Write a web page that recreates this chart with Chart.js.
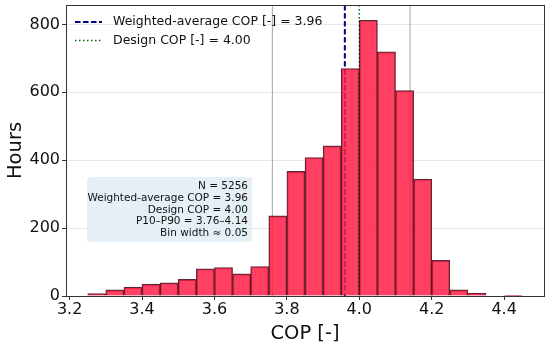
<!DOCTYPE html>
<html>
<head>
<meta charset="utf-8">
<script src="https://cdn.jsdelivr.net/npm/chart.js@4.4.1/dist/chart.umd.min.js"></script>
<style>
html,body{margin:0;padding:0;background:#fff;}
#wrap{width:550px;height:349px;position:relative;}
</style>
</head>
<body>
<div id="wrap"><canvas id="c" width="550" height="349"></canvas></div>
<script>
// ---- data ----
const binStarts = [3.25,3.30,3.35,3.40,3.45,3.50,3.55,3.60,3.65,3.70,3.75,3.80,3.85,3.90,3.95,4.00,4.05,4.10,4.15,4.20,4.25,4.30,4.35,4.40];
const binCounts = [7,18,26,35,39,49,80,84,65,87,236,367,408,442,670,812,719,605,344,105,18,8,0,1];
const binWidth = 0.05;
const xTicks = [3.2,3.4,3.6,3.8,4.0,4.2,4.4];
const yTicks = [0,200,400,600,800];
const weightedCOP = 3.96;
const designCOP = 4.00;
const p10 = 3.76;
const p90 = 4.14;
const nHours = 5256;
const legendLabels = ["Weighted-average COP [-] = 3.96", "Design COP [-] = 4.00"];
const infoLines = ["N = 5256", "Weighted-average COP = 3.96", "Design COP = 4.00", "P10–P90 = 3.76–4.14", "Bin width ≈ 0.05"];

const FONT = "'DejaVu Sans', sans-serif";
const barData = binStarts.map((s,i)=>({x: s + binWidth/2, y: binCounts[i]}));

const refPlugin = {
  id: 'refs',
  beforeDatasetsDraw(chart){
    const {ctx, chartArea:a, scales:{x}} = chart;
    ctx.save();
    ctx.beginPath(); ctx.rect(a.left,a.top,a.right-a.left,a.bottom-a.top); ctx.clip();
    ctx.strokeStyle = 'rgba(128,128,128,0.6)';
    ctx.lineWidth = 1.2;
    ctx.setLineDash([]);
    [p10,p90].forEach(v=>{
      const px = x.getPixelForValue(v);
      ctx.beginPath(); ctx.moveTo(px,a.top); ctx.lineTo(px,a.bottom); ctx.stroke();
    });
    ctx.strokeStyle = '#006400';
    ctx.lineWidth = 1.5;
    ctx.setLineDash([1.5,2.5]);
    let px = x.getPixelForValue(designCOP);
    ctx.beginPath(); ctx.moveTo(px,a.top); ctx.lineTo(px,a.bottom); ctx.stroke();
    ctx.strokeStyle = '#000080';
    ctx.lineWidth = 2;
    ctx.setLineDash([5.5,2.5]);
    px = x.getPixelForValue(weightedCOP);
    ctx.beginPath(); ctx.moveTo(px,a.top); ctx.lineTo(px,a.bottom); ctx.stroke();
    ctx.restore();
  },
  afterDraw(chart){
    const {ctx, chartArea:a} = chart;
    ctx.save();
    ctx.strokeStyle = '#333';
    ctx.lineWidth = 1;
    ctx.setLineDash([]);
    ctx.strokeRect(Math.round(a.left)+0.5, Math.round(a.top)+0.5, Math.round(a.right-a.left), Math.round(a.bottom-a.top));
    // legend
    ctx.font = "12.5px " + FONT;
    ctx.textBaseline = 'middle';
    ctx.textAlign = 'left';
    const lx0 = a.left + 9, lx1 = a.left + 36, tx = a.left + 47;
    const rows = [a.top + 17, a.top + 35.5];
    ctx.strokeStyle = '#000080'; ctx.lineWidth = 2; ctx.setLineDash([5.5,2.5]);
    ctx.beginPath(); ctx.moveTo(lx0, rows[0]); ctx.lineTo(lx1, rows[0]); ctx.stroke();
    ctx.strokeStyle = '#006400'; ctx.lineWidth = 1.5; ctx.setLineDash([1.5,2.5]);
    ctx.beginPath(); ctx.moveTo(lx0, rows[1]); ctx.lineTo(lx1, rows[1]); ctx.stroke();
    ctx.setLineDash([]);
    ctx.fillStyle = '#111';
    ctx.fillText(legendLabels[0], tx, rows[0]);
    ctx.fillText(legendLabels[1], tx, rows[1]);
    // info box
    const bx = 87, by = 177, bw = 165, bh = 65, r = 3;
    ctx.fillStyle = 'rgba(225,236,244,0.85)';
    ctx.beginPath();
    ctx.moveTo(bx+r,by); ctx.lineTo(bx+bw-r,by); ctx.quadraticCurveTo(bx+bw,by,bx+bw,by+r);
    ctx.lineTo(bx+bw,by+bh-r); ctx.quadraticCurveTo(bx+bw,by+bh,bx+bw-r,by+bh);
    ctx.lineTo(bx+r,by+bh); ctx.quadraticCurveTo(bx,by+bh,bx,by+bh-r);
    ctx.lineTo(bx,by+r); ctx.quadraticCurveTo(bx,by,bx+r,by);
    ctx.closePath(); ctx.fill();
    ctx.fillStyle = '#111';
    ctx.font = "10.5px " + FONT;
    ctx.textAlign = 'right';
    infoLines.forEach((t,i)=>{ ctx.fillText(t, bx+bw-4, by+9+i*11.9); });
    ctx.restore();
  }
};

new Chart(document.getElementById('c'), {
  type: 'bar',
  data: {
    datasets: [{
      data: barData,
      backgroundColor: 'rgba(255,30,72,0.85)',
      borderColor: 'rgba(70,0,15,0.85)',
      borderWidth: 1.2,
      barPercentage: 1.0,
      categoryPercentage: 1.0,
      grouped: false
    }]
  },
  options: {
    responsive: false,
    animation: false,
    events: [],
    layout: {padding: {left: 0, right: 6, top: 5, bottom: 0}},
    plugins: {legend: {display: false}, tooltip: {enabled: false}},
    scales: {
      x: {
        type: 'linear',
        min: 3.19, max: 4.51,
        offset: false,
        ticks: {color:'#111', font:{family:FONT, size:16}, padding: 0, maxRotation: 0,
          stepSize: 0.2, includeBounds: false, autoSkip: false,
          callback: v => Number(v).toFixed(1)},
        afterBuildTicks: s => { s.ticks = xTicks.map(v=>({value:v})); },
        afterFit: s => { s.height = 53; s.paddingLeft = 0; s.paddingRight = 0; },
        grid: {offset: false, drawOnChartArea: false, drawTicks: true, tickLength: 4, color:'#333'},
        border: {display: true, color:'#333'},
        title: {display: true, text: 'COP [-]', color:'#111', font:{family:FONT, size:19.5}, padding:{top:0, bottom:3}}
      },
      y: {
        min: 0, max: 857,
        ticks: {color:'#111', font:{family:FONT, size:16}, padding: 2, stepSize: 200, autoSkip: false},
        afterBuildTicks: s => { s.ticks = yTicks.map(v=>({value:v})); },
        afterFit: s => { s.width = 66; s.paddingTop = 0; s.paddingBottom = 0; },
        grid: {color:'rgba(0,0,0,0.09)', tickColor:'#333', tickLength: 4},
        border: {display: true, color:'#333'},
        title: {display: true, text: 'Hours', color:'#111', font:{family:FONT, size:19.5}, padding:{top:4, bottom:0}}
      }
    }
  },
  plugins: [refPlugin]
});
</script>
</body>
</html>
